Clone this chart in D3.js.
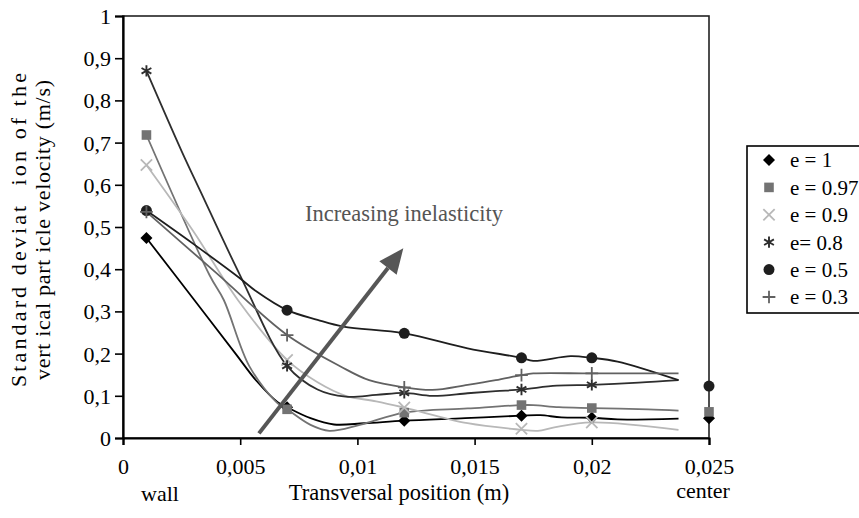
<!DOCTYPE html>
<html><head><meta charset="utf-8">
<script src="https://cdn.jsdelivr.net/npm/d3@7"></script>
<style>
body{margin:0;background:#fff}
svg{display:block}
text{font-family:"Liberation Serif","Times New Roman",serif}
</style>
</head><body>
<svg id="chart" width="859" height="518"></svg>
<script>
// ---------- data ----------
const xTickValues = [0, 0.005, 0.01, 0.015, 0.02, 0.025];
const xTickLabels = ["0", "0,005", "0,01", "0,015", "0,02", "0,025"];
const yTickValues = [0, 0.1, 0.2, 0.3, 0.4, 0.5, 0.6, 0.7, 0.8, 0.9, 1];
const yTickLabels = ["0", "0,1", "0,2", "0,3", "0,4", "0,5", "0,6", "0,7", "0,8", "0,9", "1"];

const seriesNames = ["e = 1", "e = 0.97", "e = 0.9", "e= 0.8", "e = 0.5", "e = 0.3"];

// positions where markers are drawn
const markerX = [0.001, 0.007, 0.012, 0.017, 0.02];
const markE1   = [0.474, 0.073, 0.041, 0.053, 0.048];
const markE097 = [0.718, 0.068, 0.060, 0.078, 0.071];
const markE09  = [0.647, 0.185, 0.072, 0.022, 0.037];
const markE08  = [0.870, 0.171, 0.107, 0.115, 0.126];
const markE05  = [0.539, 0.303, 0.248, 0.190, 0.190];
const markE03  = [0.536, 0.244, 0.120, 0.149, 0.153];

// isolated values at the centre (x = 0.025)
const centerX = 0.025;
const centerE1 = 0.047, centerE097 = 0.062, centerE05 = 0.123;

// smoothed profile lines [x, value]
const lineE1 = [[0.001,0.474],[0.003,0.33],[0.0048,0.2],[0.0057,0.135],[0.0066,0.085],[0.007,0.073],[0.008,0.047],[0.009,0.032],[0.0103,0.035],[0.012,0.041],[0.0146,0.047],[0.017,0.053],[0.0178,0.054],[0.0187,0.049],[0.02,0.048],[0.0211,0.044],[0.0237,0.046]];
const lineE097 = [[0.001,0.718],[0.0037,0.385],[0.0043,0.327],[0.0054,0.169],[0.0066,0.082],[0.007,0.068],[0.008,0.031],[0.0088,0.017],[0.0101,0.031],[0.012,0.06],[0.0147,0.07],[0.017,0.078],[0.0175,0.078],[0.0186,0.073],[0.02,0.071],[0.0224,0.068],[0.0237,0.065]];
const lineE09 = [[0.001,0.647],[0.003,0.49],[0.0049,0.327],[0.007,0.185],[0.0083,0.132],[0.0095,0.1],[0.0108,0.087],[0.012,0.072],[0.0147,0.035],[0.0169,0.02],[0.0177,0.017],[0.0184,0.025],[0.02,0.037],[0.0237,0.019]];
const lineE08 = [[0.001,0.87],[0.0025,0.68],[0.0033,0.585],[0.005,0.385],[0.007,0.171],[0.0083,0.115],[0.0095,0.098],[0.0108,0.102],[0.012,0.107],[0.0132,0.1],[0.0147,0.106],[0.0159,0.111],[0.017,0.115],[0.0185,0.124],[0.02,0.126],[0.022,0.131],[0.0237,0.137]];
const lineE05 = [[0.001,0.539],[0.003,0.46],[0.005,0.378],[0.0057,0.347],[0.007,0.303],[0.0083,0.28],[0.0094,0.264],[0.012,0.248],[0.0147,0.2125],[0.017,0.19],[0.0175,0.183],[0.0191,0.194],[0.02,0.19],[0.0211,0.181],[0.0237,0.137]];
const lineE03 = [[0.001,0.536],[0.004,0.39],[0.007,0.244],[0.0093,0.169],[0.0105,0.137],[0.012,0.12],[0.0132,0.114],[0.0147,0.126],[0.0159,0.137],[0.017,0.149],[0.0175,0.153],[0.02,0.153],[0.0237,0.153]];

// annotation arrow [x, value]
const arrowFrom = [0.0058, 0.011];
const arrowTo = [0.01196, 0.4495];

// ---------- drawing ----------
const svg = d3.select("#chart");
const x = d3.scaleLinear().domain([0, 0.025]).range([123, 709]);
const y = d3.scaleLinear().domain([0, 1]).range([438, 16]);

const series = [
  {name: seriesNames[0], line: lineE1,   marks: markE1,   center: centerE1,   color: "#000000", sym: "diamond"},
  {name: seriesNames[1], line: lineE097, marks: markE097, center: centerE097, color: "#737373", sym: "square"},
  {name: seriesNames[2], line: lineE09,  marks: markE09,  center: null,       color: "#b8b8b8", sym: "x"},
  {name: seriesNames[3], line: lineE08,  marks: markE08,  center: null,       color: "#2e2e2e", sym: "asterisk"},
  {name: seriesNames[4], line: lineE05,  marks: markE05,  center: centerE05,  color: "#1e1e1e", sym: "circle"},
  {name: seriesNames[5], line: lineE03,  marks: markE03,  center: null,       color: "#616161", sym: "plus"}
];

// plot frame
svg.append("rect").attr("x", x(0)).attr("y", y(1))
  .attr("width", x(0.025) - x(0)).attr("height", y(0) - y(1))
  .attr("fill", "none").attr("stroke", "#222").attr("stroke-width", 1.6);

const lineGen = d3.line().x(d => x(d[0])).y(d => y(d[1])).curve(d3.curveCatmullRom.alpha(0.5));

series.forEach(s => {
  svg.append("path").attr("d", lineGen(s.line))
    .attr("fill", "none").attr("stroke", s.color).attr("stroke-width", 1.8);
});

function drawMarker(g, type, cx, cy, color) {
  if (type === "diamond") {
    g.append("path").attr("d", d3.symbol(d3.symbolSquare, 72)())
      .attr("transform", `translate(${cx},${cy}) rotate(45)`).attr("fill", color);
  } else if (type === "square") {
    g.append("path").attr("d", d3.symbol(d3.symbolSquare, 92)())
      .attr("transform", `translate(${cx},${cy})`).attr("fill", color);
  } else if (type === "circle") {
    g.append("path").attr("d", d3.symbol(d3.symbolCircle, 95)())
      .attr("transform", `translate(${cx},${cy})`).attr("fill", color);
  } else if (type === "x") {
    g.append("path").attr("d", d3.symbol(d3.symbolX, 85)())
      .attr("transform", `translate(${cx},${cy})`).attr("fill", "none")
      .attr("stroke", color).attr("stroke-width", 1.8);
  } else if (type === "asterisk") {
    g.append("path").attr("d", d3.symbol(d3.symbolAsterisk, 90)())
      .attr("transform", `translate(${cx},${cy})`).attr("fill", "none")
      .attr("stroke", color).attr("stroke-width", 1.9);
  } else if (type === "plus") {
    g.append("path").attr("d", d3.symbol(d3.symbolPlus, 55)())
      .attr("transform", `translate(${cx},${cy})`).attr("fill", "none")
      .attr("stroke", color).attr("stroke-width", 1.8);
  }
}

const mg = svg.append("g");
series.forEach(s => {
  s.marks.forEach((v, i) => drawMarker(mg, s.sym, x(markerX[i]), y(v), s.color));
});
// centre points: diamond first, then square on top, then circle
[0, 1, 4].forEach(i => {
  const s = series[i];
  drawMarker(mg, s.sym, x(centerX), y(s.center), s.color);
});

// axes
const xAxis = svg.append("g").attr("transform", `translate(0,${y(0)})`)
  .call(d3.axisBottom(x).tickValues(xTickValues).tickFormat((d, i) => xTickLabels[i]).tickSizeOuter(0).tickSize(7));
const yAxis = svg.append("g").attr("transform", `translate(${x(0)},0)`)
  .call(d3.axisLeft(y).tickValues(yTickValues).tickFormat((d, i) => yTickLabels[i]).tickSizeOuter(0).tickSize(8));
[xAxis, yAxis].forEach(a => {
  a.select(".domain").attr("stroke", "#000").attr("stroke-width", 2.2);
  a.selectAll(".tick line").attr("stroke", "#000").attr("stroke-width", 1.6);
  a.selectAll("text").attr("font-family", '"Liberation Serif", serif').attr("font-size", 22).attr("fill", "#000");
});
xAxis.selectAll("text").attr("y", 36).attr("dy", 0);
yAxis.selectAll("text").attr("x", -12).attr("dy", "0.34em");

// axis titles
svg.append("text").attr("x", 160).attr("y", 501).attr("text-anchor", "middle")
  .attr("font-size", 22).text("wall");
svg.append("text").attr("x", 399).attr("y", 500).attr("text-anchor", "middle")
  .attr("font-size", 22.5).text("Transversal position (m)");
svg.append("text").attr("x", 703).attr("y", 498).attr("text-anchor", "middle")
  .attr("font-size", 22).text("center");

const yt = svg.append("g").attr("transform", "translate(0,230) rotate(-90)");
yt.append("text").attr("x", -157).attr("y", 26)
  .attr("font-size", 22).style("white-space", "pre")
  .attr("textLength", 314).attr("lengthAdjust", "spacing")
  .text("Standard deviat  ion of the");
yt.append("text").attr("x", -150).attr("y", 50)
  .attr("font-size", 22).style("white-space", "pre")
  .attr("textLength", 300).attr("lengthAdjust", "spacing")
  .text("vert ical part icle velocity (m/s)");

// annotation
svg.append("text").attr("x", 305).attr("y", 221).attr("font-size", 22.5).attr("fill", "#555")
  .text("Increasing inelasticity");

const ax0 = x(arrowFrom[0]), ay0 = y(arrowFrom[1]);
const ax1 = x(arrowTo[0]), ay1 = y(arrowTo[1]);
const ang = Math.atan2(ay1 - ay0, ax1 - ax0);
const headLen = 25, headHalf = 11;
const bx = ax1 - headLen * Math.cos(ang), by = ay1 - headLen * Math.sin(ang);
svg.append("line").attr("x1", ax0).attr("y1", ay0).attr("x2", bx).attr("y2", by)
  .attr("stroke", "#565656").attr("stroke-width", 4);
svg.append("path")
  .attr("d", d3.line()([[ax1, ay1],
    [bx + headHalf * Math.sin(ang), by - headHalf * Math.cos(ang)],
    [bx - headHalf * Math.sin(ang), by + headHalf * Math.cos(ang)]]) + "Z")
  .attr("fill", "#565656");

// legend
const lg = svg.append("g");
lg.append("rect").attr("x", 747).attr("y", 146).attr("width", 130).attr("height", 167)
  .attr("fill", "#fff").attr("stroke", "#000").attr("stroke-width", 1.6);
series.forEach((s, i) => {
  const cy = 160 + i * 27.4;
  drawMarker(lg, s.sym, 769, cy, s.color);
  lg.append("text").attr("x", 790).attr("y", cy).attr("dy", "0.35em")
    .attr("font-size", 21).style("white-space", "pre").text(s.name);
});
</script>
</body></html>
